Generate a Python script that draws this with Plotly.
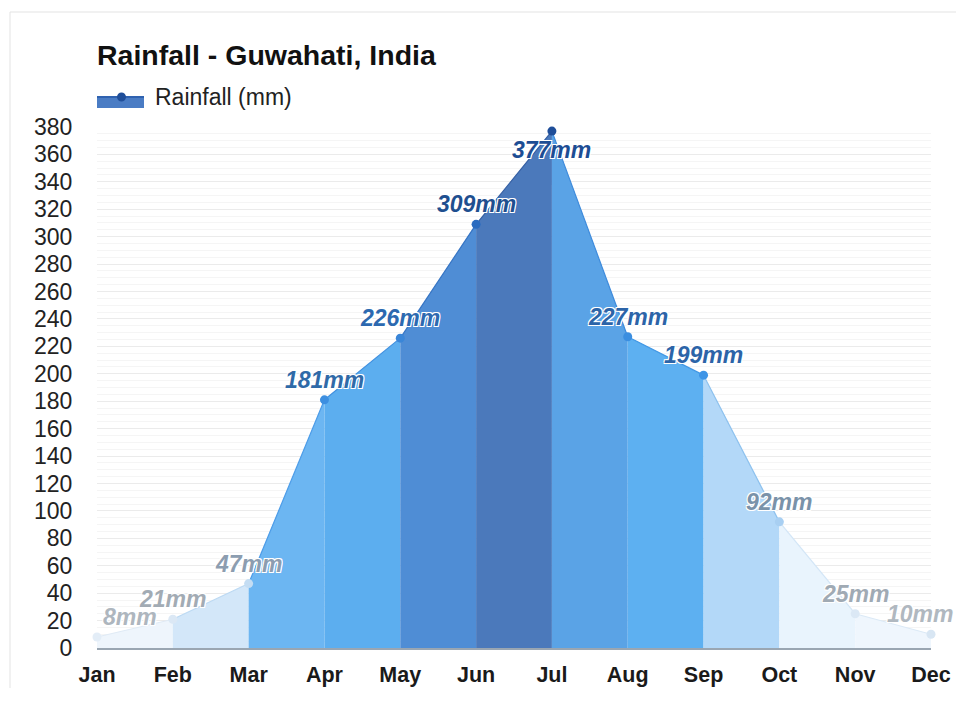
import plotly.graph_objects as go

months = ["Jan", "Feb", "Mar", "Apr", "May", "Jun", "Jul", "Aug", "Sep", "Oct", "Nov", "Dec"]
rain_mm = [8, 21, 47, 181, 226, 309, 377, 227, 199, 92, 25, 10]
y_ticks = list(range(0, 381, 20))
series_name = "Rainfall (mm)"
chart_title = "Rainfall - Guwahati, India"

# styles (not data)
seg_fill = ["#eef5fc", "#d3e7f9", "#6cb6f2", "#5caeef", "#4f8dd5", "#4b79bb",
            "#5aa3e6", "#5db0f1", "#b3d8f8", "#e9f4fd", "#eff6fd"]
seg_line = ["#dfeaf5", "#bcd9f3", "#4c9ce8", "#3f90e0", "#3574c4", "#355fa3",
            "#3e8bdc", "#4097e5", "#8dc1ee", "#d3e6f7", "#dbe9f6"]
pt_color = ["#e3edf7", "#dbe8f5", "#c4ddf3", "#3d8fe0", "#3a86d8", "#2a6bbf",
            "#1f4e99", "#3b8ee0", "#3d94e6", "#a8cff2", "#dbe8f5", "#d8e6f3"]
lbl_color = ["#aeb6be", "#a2abb4", "#8c9db0", "#2f6aa8", "#2c69b0", "#1f4f8f",
             "#1d4d94", "#2c64a8", "#2c64a8", "#7a92a9", "#a0aab4", "#b0b8c0"]

# plot area in figure pixels (page adds an 8px body margin)
W, H = 956, 680
L, T = 89, 119
PLOT_BOTTOM = 640
R, B = W - 923, H - PLOT_BOTTOM
PW, PH = W - L - R, PLOT_BOTTOM - T


def px(x):
    return (x - L) / PW


def py(y):
    return (PLOT_BOTTOM - y) / PH


fig = go.Figure()

for i in range(len(months) - 1):
    fig.add_trace(go.Scatter(
        x=[months[i], months[i + 1]], y=[rain_mm[i], rain_mm[i + 1]],
        mode="lines", fill="tozeroy", fillcolor=seg_fill[i],
        line=dict(color=seg_line[i], width=1.2),
        showlegend=False, hoverinfo="skip"))

fig.add_trace(go.Scatter(
    x=months, y=rain_mm, mode="markers",
    marker=dict(size=9, color=pt_color),
    showlegend=False, cliponaxis=False, name=series_name))

outline = "1px 1px 0 #fff, -1px -1px 0 #fff, 1px -1px 0 #fff, -1px 1px 0 #fff"
peak = max(rain_mm)
last = len(months) - 1
for i, (m, v) in enumerate(zip(months, rain_mm)):
    if i == 0:
        xa, xs = "left", 4
    elif i == last:
        xa, xs = "right", 24
    else:
        xa, xs = "center", 0
    fig.add_annotation(
        x=m, y=v, text=f"{v}mm", showarrow=False,
        xanchor=xa, xshift=xs,
        yshift=-19 if v == peak else 20,
        font=dict(family="Liberation Sans", size=23, color=lbl_color[i],
                  weight="bold", style="italic", shadow=outline))

# outer card border
fig.add_shape(type="rect", xref="paper", yref="paper",
              x0=px(2), x1=px(990), y0=py(720), y1=py(4),
              line=dict(color="#e3e3e3", width=1), fillcolor="rgba(0,0,0,0)",
              layer="below")

# legend (drawn)
fig.add_shape(type="rect", xref="paper", yref="paper",
              x0=px(89), x1=px(136), y0=py(100), y1=py(89),
              line=dict(width=0), fillcolor="#4a7cc4")
fig.add_shape(type="line", xref="paper", yref="paper",
              x0=px(89), x1=px(136), y0=py(89), y1=py(89),
              line=dict(color="#2f62b0", width=2))
fig.add_shape(type="circle", xref="paper", yref="paper",
              xsizemode="pixel", ysizemode="pixel",
              xanchor=px(113.5), yanchor=py(89),
              x0=-4.5, x1=4.5, y0=-4.5, y1=4.5,
              line=dict(width=0), fillcolor="#1f4e99")
fig.add_annotation(x=px(145), y=py(89), xref="paper", yref="paper",
                   text=series_name, showarrow=False, xanchor="left",
                   yanchor="middle",
                   font=dict(family="Liberation Sans", size=23, color="#222222"))

fig.update_layout(
    width=W, height=H,
    margin=dict(l=L, r=R, t=T, b=B),
    paper_bgcolor="white", plot_bgcolor="white",
    font=dict(family="Liberation Sans", color="#222222"),
    title=dict(text=f"<b>{chart_title}</b>", x=0, xref="paper",
               xanchor="left", y=1 - 47 / H, yref="container", yanchor="middle",
               font=dict(size=28.5, color="#111111")),
    showlegend=False,
    xaxis=dict(type="category", categoryorder="array", categoryarray=months,
               range=[0, 11], showgrid=False, showline=True, linecolor="#9aa6b2",
               linewidth=1.5, ticks="outside", ticklen=6,
               tickcolor="rgba(0,0,0,0)",
               tickfont=dict(size=21.5, weight="bold", color="#1a1a1a"),
               fixedrange=True, automargin=False),
    yaxis=dict(range=[0, 380], tickvals=y_ticks, showgrid=True,
               gridcolor="#ebebeb", gridwidth=1, zeroline=False,
               ticks="outside", ticklen=19, tickcolor="rgba(0,0,0,0)",
               tickfont=dict(size=23, color="#222222"),
               minor=dict(dtick=5, showgrid=True, gridcolor="#f5f5f5", gridwidth=1),
               fixedrange=True, automargin=False),
)

fig.write_html("out.html")
